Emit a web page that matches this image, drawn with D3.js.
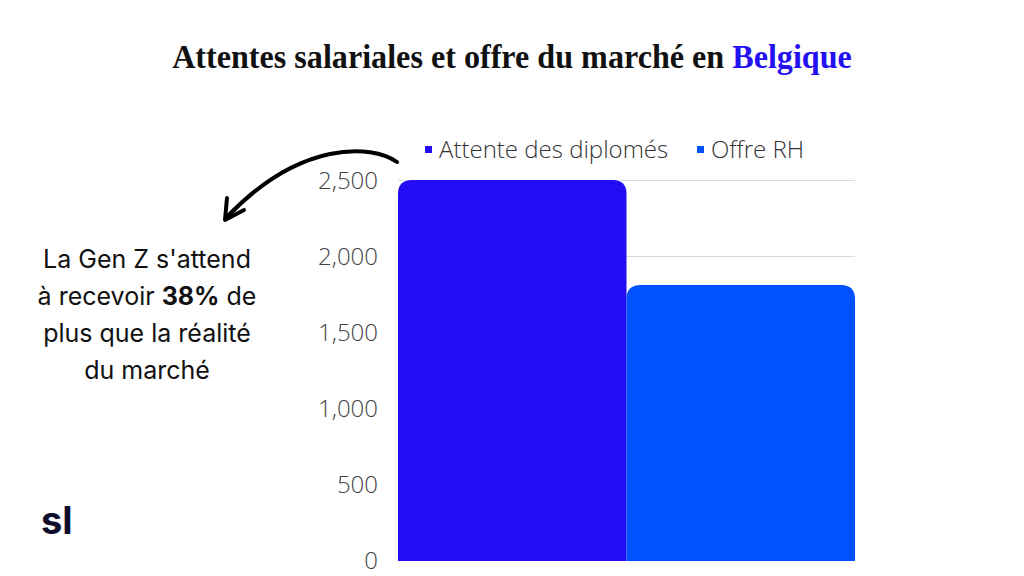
<!DOCTYPE html>
<html>
<head>
<meta charset="utf-8">
<script src="https://cdn.jsdelivr.net/npm/d3@7"></script>
<style>
  body { margin: 0; background: #fff; }
  svg { display: block; }
</style>
</head>
<body>
<svg id="chart"></svg>
<script>
// donnees
const categories = ["Attente des diplomés", "Offre RH"];
const values = [2500, 1810];
const colors = ["#220cf3", "#0052ff"];
const yTicks = [0, 500, 1000, 1500, 2000, 2500];
const noteLines = ["La Gen Z s'attend", "à recevoir |38%| de", "plus que la réalité", "du marché"];

const width = 1024;
const height = 576;
const plotLeft = 398, plotRight = 855, plotTop = 180, plotBottom = 560;

let svg = d3.select("#chart")
    .attr("width", width)
    .attr("height", height);

// titre : police serif resserree a la largeur voulue
let titleG = svg.append("g");
let title = titleG.append("text")
    .attr("x", 0)
    .attr("y", 0)
    .attr("text-anchor", "middle")
    .style("font-family", "'Liberation Serif', serif")
    .style("font-weight", "bold")
    .style("font-size", "33px")
    .style("fill", "#111");
title.append("tspan").text("Attentes salariales et offre du marché en ");
title.append("tspan").text("Belgique").style("fill", "#2410f0");
let titleW = title.node().getComputedTextLength();
titleG.attr("transform", `translate(512, 68) scale(${680 / titleW}, 1)`);

let scaleX = d3.scaleBand()
    .domain(categories)
    .range([plotLeft, plotRight])
    .padding(0);

let scaleY = d3.scaleLinear()
    .domain([0, 2500])
    .range([plotBottom, plotTop]);

// grille
svg.append("g")
    .selectAll("line")
    .data(yTicks.filter(d => d > 0))
    .enter()
    .append("line")
    .attr("x1", plotLeft)
    .attr("x2", plotRight)
    .attr("y1", d => scaleY(d) + 0.5)
    .attr("y2", d => scaleY(d) + 0.5)
    .style("stroke", "#d9d9d9")
    .style("stroke-width", 1);

// axe Y
let axisY = d3.axisLeft(scaleY)
    .tickValues(yTicks)
    .tickSize(0)
    .tickPadding(0)
    .tickFormat(d3.format(","));

let gY = svg.append("g")
    .attr("transform", `translate(378, 0)`)
    .call(axisY);
gY.select(".domain").remove();
gY.selectAll("text")
    .style("font-family", "'Open Sans', sans-serif")
    .style("font-weight", "300")
    .style("font-size", "24px")
    .style("fill", "#444")
    .attr("dy", "0.35em");

// barres avec coins arrondis en haut
function barPath(x, y, w, h, r) {
    return `M${x},${y + h} V${y + r} Q${x},${y} ${x + r},${y} H${x + w - r} Q${x + w},${y} ${x + w},${y + r} V${y + h} Z`;
}

svg.append("g")
    .selectAll("path")
    .data(categories)
    .enter()
    .append("path")
    .attr("d", (d, i) => barPath(scaleX(d), scaleY(values[i]), scaleX.bandwidth(), plotBottom - scaleY(values[i]) + 1, 14))
    .style("fill", (d, i) => colors[i]);

// legende
let legendX = [425, 697];
let legend = svg.append("g")
    .selectAll("g")
    .data(categories)
    .enter()
    .append("g")
    .attr("transform", (d, i) => `translate(${legendX[i]}, 150)`);
legend.append("rect")
    .attr("x", 0)
    .attr("y", -4)
    .attr("width", 7)
    .attr("height", 7)
    .style("fill", (d, i) => colors[i]);
legend.append("text")
    .attr("x", 14)
    .attr("y", 0)
    .attr("dy", "0.35em")
    .text(d => d)
    .style("font-family", "'Open Sans', sans-serif")
    .style("font-weight", "300")
    .style("font-size", "24px")
    .style("fill", "#333");

// fleche
svg.append("path")
    .attr("d", "M397,162 C372,144 300,140 226,218")
    .style("fill", "none")
    .style("stroke", "#000")
    .style("stroke-width", 4)
    .style("stroke-linecap", "round");
svg.append("path")
    .attr("d", "M227,198 L225,220 L244,210")
    .style("fill", "none")
    .style("stroke", "#000")
    .style("stroke-width", 4)
    .style("stroke-linecap", "round")
    .style("stroke-linejoin", "round");

// annotation
let note = svg.append("g");
noteLines.forEach((line, i) => {
    let t = note.append("text")
        .attr("x", 147)
        .attr("y", 268 + i * 37)
        .attr("text-anchor", "middle")
        .style("font-family", "Inter, sans-serif")
        .style("font-size", "25px")
        .style("fill", "#111");
    line.split("|").forEach((part, j) => {
        t.append("tspan")
            .text(part)
            .style("font-weight", j == 1 ? "bold" : "normal");
    });
});

// logo
svg.append("text")
    .attr("x", 41)
    .attr("y", 534)
    .text("sl")
    .style("font-family", "Inter, sans-serif")
    .style("font-weight", "bold")
    .style("font-size", "38px")
    .style("fill", "#0e0e2c");
</script>
</body>
</html>
